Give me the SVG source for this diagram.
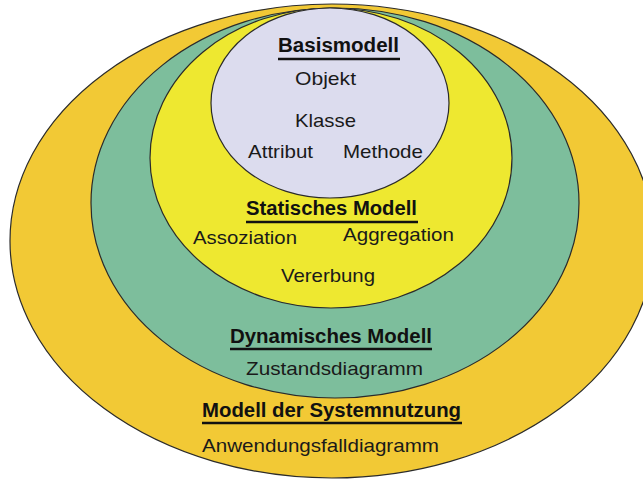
<svg xmlns="http://www.w3.org/2000/svg" width="643" height="481" viewBox="0 0 643 481">
  <style>
    .ring { stroke: #2b2b2b; stroke-width: 1.2; }
    .head { font-family: "Liberation Sans", Arial, sans-serif; font-weight: bold; font-size: 20px; fill: #111; }
    .item { font-family: "Liberation Sans", Arial, sans-serif; font-size: 19px; fill: #1a1a1a; }
    .rule { stroke: #111; stroke-width: 2.6; }
  </style>
  <rect width="643" height="481" fill="#ffffff"/>

  <!-- nested layers, drawn outermost first -->
  <g id="systemnutzung">
    <ellipse class="ring" cx="332" cy="241" rx="322" ry="237" fill="#F2C935"/>
  </g>
  <g id="dynamisch">
    <ellipse class="ring" cx="335" cy="203" rx="244" ry="195" fill="#7DBE9C"/>
  </g>
  <g id="statisch">
    <ellipse class="ring" cx="331" cy="158" rx="181" ry="150" fill="#EEE830"/>
  </g>
  <g id="basis">
    <ellipse class="ring" cx="330" cy="103" rx="119" ry="95" fill="#DCDCEE"/>
  </g>

  <!-- layer labels -->
  <g id="systemnutzung-label">
    <text class="head" x="202" y="417" textLength="259" lengthAdjust="spacingAndGlyphs">Modell der Systemnutzung</text>
    <line class="rule" x1="202" y1="423" x2="462" y2="423"/>
    <text class="item" x="202" y="452" textLength="237" lengthAdjust="spacingAndGlyphs">Anwendungsfalldiagramm</text>
  </g>
  <g id="dynamisch-label">
    <text class="head" x="230" y="343" textLength="202" lengthAdjust="spacingAndGlyphs">Dynamisches Modell</text>
    <line class="rule" x1="230" y1="349" x2="432" y2="349"/>
    <text class="item" x="246" y="375" textLength="177" lengthAdjust="spacingAndGlyphs">Zustandsdiagramm</text>
  </g>
  <g id="statisch-label">
    <text class="head" x="246" y="215" textLength="171" lengthAdjust="spacingAndGlyphs">Statisches Modell</text>
    <line class="rule" x1="246" y1="222" x2="418" y2="222"/>
    <text class="item" x="193" y="244" textLength="104" lengthAdjust="spacingAndGlyphs">Assoziation</text>
    <text class="item" x="343" y="241" textLength="111" lengthAdjust="spacingAndGlyphs">Aggregation</text>
    <text class="item" x="281" y="282" textLength="94" lengthAdjust="spacingAndGlyphs">Vererbung</text>
  </g>
  <g id="basis-label">
    <text class="head" x="278" y="52" textLength="121" lengthAdjust="spacingAndGlyphs">Basismodell</text>
    <line class="rule" x1="278" y1="59" x2="400" y2="59"/>
    <text class="item" x="295" y="85" textLength="61" lengthAdjust="spacingAndGlyphs">Objekt</text>
    <text class="item" x="295" y="127" textLength="61" lengthAdjust="spacingAndGlyphs">Klasse</text>
    <text class="item" x="248" y="158" textLength="65" lengthAdjust="spacingAndGlyphs">Attribut</text>
    <text class="item" x="343" y="158" textLength="80" lengthAdjust="spacingAndGlyphs">Methode</text>
  </g>

  <g id="connectors"/>
</svg>
